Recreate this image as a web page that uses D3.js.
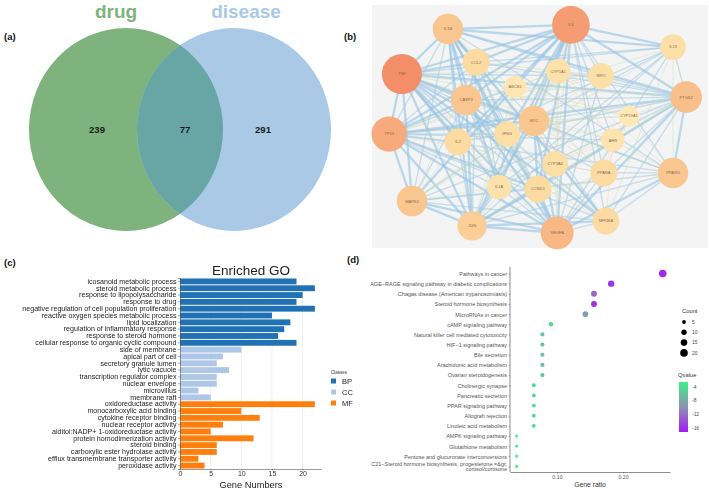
<!DOCTYPE html>
<html>
<head>
<meta charset="utf-8">
<script src="https://cdn.jsdelivr.net/npm/d3@7"></script>
<style>
  body { margin: 0; background: #fff; }
  text { font-family: "Liberation Sans", Arial, sans-serif; }
</style>
</head>
<body>
<div id="fig"></div>
<script>
// ---------- data ----------
// (a) venn
var vennSets = ["drug", "disease"];
var vennCounts = [239, 77, 291];   // drug only, shared, disease only

// (b) PPI network, layout units 0..1 inside the panel
var netNodes = ["IL1B","IL6","IL13","CCL2","CYP1A1","MPO","TNF","ABCB1","CASP3","PTGS2","MYC","CYP19A1",
                "TP53","IL2","IFNG","AHR","CYP3A4","PPARA","PPARG","IL1A","CCND1","MAPK3","JUN","VEGFA","NFKBIA"];
var netX = [0.226,0.592,0.896,0.310,0.554,0.682,0.089,0.426,0.280,0.935,0.482,0.765,
            0.051,0.256,0.402,0.717,0.545,0.690,0.896,0.378,0.494,0.119,0.298,0.551,0.696];
var netY = [0.099,0.082,0.173,0.235,0.272,0.292,0.284,0.337,0.391,0.379,0.477,0.457,
            0.531,0.564,0.531,0.556,0.654,0.691,0.691,0.749,0.757,0.807,0.909,0.938,0.889];
var netDegree = [16,22,12,13,11,12,24,9,16,17,16,8,
                 20,13,12,10,12,13,16,11,13,16,15,18,13];
var netEdges = [
 ["TNF","IL6",3],["TNF","IL1B",3],["TNF","TP53",3],["TNF","CASP3",3],["TNF","MYC",3],["TNF","IL2",3],["TNF","MAPK3",3],
 ["TNF","JUN",3],["TNF","VEGFA",3],["TNF","PTGS2",3],["TNF","IL13",2],["TNF","CCL2",3],["TNF","IFNG",3],["TNF","IL1A",3],
 ["TNF","CCND1",2],["TNF","PPARG",2],["TNF","NFKBIA",3],["TNF","MPO",2],["TNF","CYP1A1",1],["TNF","PPARA",2],["TNF","AHR",1],
 ["TNF","ABCB1",1],["TNF","CYP19A1",1],
 ["IL6","IL1B",3],["IL6","TP53",3],["IL6","CASP3",3],["IL6","MYC",3],["IL6","IL2",3],["IL6","MAPK3",3],["IL6","JUN",3],
 ["IL6","VEGFA",3],["IL6","PTGS2",3],["IL6","IL13",3],["IL6","CCL2",3],["IL6","IFNG",3],["IL6","IL1A",3],["IL6","CCND1",3],
 ["IL6","PPARG",2],["IL6","NFKBIA",2],["IL6","MPO",2],["IL6","CYP1A1",1],["IL6","PPARA",2],["IL6","AHR",2],["IL6","CYP3A4",1],
 ["TP53","IL1B",2],["TP53","CASP3",3],["TP53","MYC",3],["TP53","IL2",2],["TP53","MAPK3",3],["TP53","JUN",3],["TP53","VEGFA",3],
 ["TP53","PTGS2",3],["TP53","CCND1",3],["TP53","IL1A",2],["TP53","IFNG",2],["TP53","PPARG",2],["TP53","NFKBIA",2],["TP53","CYP1A1",1],
 ["TP53","AHR",2],["TP53","CCL2",2],["TP53","IL13",1],["TP53","MPO",1],["TP53","PPARA",1],["TP53","CYP19A1",1],["TP53","ABCB1",2],
 ["VEGFA","IL1B",3],["VEGFA","CASP3",3],["VEGFA","MYC",3],["VEGFA","IL2",1],["VEGFA","MAPK3",3],["VEGFA","JUN",3],["VEGFA","PTGS2",3],
 ["VEGFA","CCND1",3],["VEGFA","IL1A",2],["VEGFA","IFNG",2],["VEGFA","PPARG",3],["VEGFA","NFKBIA",2],["VEGFA","CCL2",2],["VEGFA","IL13",2],
 ["VEGFA","MPO",2],["VEGFA","PPARA",2],["VEGFA","AHR",1],["VEGFA","CYP3A4",1],["VEGFA","CYP1A1",1],
 ["IL1B","CASP3",3],["IL1B","MYC",2],["IL1B","IL2",2],["IL1B","MAPK3",2],["IL1B","JUN",3],["IL1B","PTGS2",3],["IL1B","CCND1",1],
 ["IL1B","IL1A",3],["IL1B","IFNG",3],["IL1B","PPARG",2],["IL1B","NFKBIA",3],["IL1B","CCL2",3],["IL1B","IL13",3],["IL1B","MPO",2],
 ["IL1B","PPARA",1],
 ["JUN","CASP3",3],["JUN","MYC",3],["JUN","IL2",2],["JUN","MAPK3",3],["JUN","PTGS2",3],["JUN","CCND1",3],["JUN","IL1A",2],
 ["JUN","IFNG",2],["JUN","PPARG",2],["JUN","NFKBIA",3],["JUN","CCL2",2],["JUN","IL13",2],["JUN","MPO",1],["JUN","AHR",1],
 ["JUN","PPARA",1],["JUN","CYP1A1",1],["JUN","ABCB1",1],
 ["MAPK3","CASP3",2],["MAPK3","MYC",2],["MAPK3","IL2",1],["MAPK3","PTGS2",2],["MAPK3","CCND1",2],["MAPK3","IL1A",1],["MAPK3","IFNG",1],
 ["MAPK3","PPARG",2],["MAPK3","NFKBIA",2],["MAPK3","CCL2",1],["MAPK3","IL13",1],["MAPK3","MPO",1],
 ["PTGS2","CASP3",2],["PTGS2","MYC",2],["PTGS2","IL2",1],["PTGS2","CCND1",2],["PTGS2","IL1A",2],["PTGS2","IFNG",2],["PTGS2","PPARG",3],
 ["PTGS2","NFKBIA",2],["PTGS2","CCL2",2],["PTGS2","IL13",2],["PTGS2","MPO",2],["PTGS2","CYP19A1",1],["PTGS2","AHR",1],["PTGS2","PPARA",2],
 ["PTGS2","CYP1A1",2],["PTGS2","CYP3A4",1],["PTGS2","ABCB1",1],
 ["MYC","CASP3",2],["MYC","CCND1",3],["MYC","IFNG",1],["MYC","PPARG",2],["MYC","NFKBIA",2],["MYC","AHR",1],["MYC","CYP1A1",1],
 ["MYC","ABCB1",1],["MYC","CYP19A1",1],["MYC","PPARA",1],["MYC","CYP3A4",1],["MYC","IL2",1],
 ["CASP3","IL2",2],["CASP3","IL1A",2],["CASP3","IFNG",2],["CASP3","CCL2",2],["CASP3","NFKBIA",2],["CASP3","CCND1",2],["CASP3","PPARG",1],
 ["CASP3","MPO",1],
 ["PPARG","PPARA",2],["PPARG","CCND1",1],["PPARG","CYP19A1",1],["PPARG","AHR",1],["PPARG","NFKBIA",2],["PPARG","IL13",1],["PPARG","CYP1A1",1],
 ["IL13","IL2",2],["IL13","IFNG",2],["IL13","CCL2",2],["IL13","IL1A",2],["IL13","NFKBIA",1],
 ["CCL2","IL2",2],["CCL2","IFNG",2],["CCL2","IL1A",2],["CCL2","NFKBIA",2],["CCL2","MPO",1],
 ["IFNG","IL2",2],["IFNG","IL1A",2],["IFNG","NFKBIA",1],["IL2","IL1A",1],["IL2","NFKBIA",1],
 ["CYP1A1","CYP19A1",0],["CYP1A1","AHR",0],["CYP1A1","CYP3A4",0],["CYP19A1","AHR",0],["CYP3A4","ABCB1",0],["CYP3A4","PPARA",0],
 ["CYP19A1","PPARA",0],["AHR","PPARA",0],["CYP1A1","MPO",0],["ABCB1","PPARA",0],["CYP3A4","AHR",0],["CYP3A4","CYP19A1",0],
 ["CYP1A1","ABCB1",0],["AHR","NFKBIA",0],["ABCB1","CYP19A1",0],["CYP3A4","CCND1",0],["MPO","CYP19A1",0],["ABCB1","IFNG",0]
];

// (c) GO enrichment
var goTerms = ["icosanoid metabolic process","steroid metabolic process","response to lipopolysaccharide","response to drug",
  "negative regulation of cell population proliferation","reactive oxygen species metabolic process","lipid localization",
  "regulation of inflammatory response","response to steroid hormone","cellular response to organic cyclic compound",
  "side of membrane","apical part of cell","secretory granule lumen","lytic vacuole","transcription regulator complex",
  "nuclear envelope","microvillus","membrane raft",
  "oxidoreductase activity","monocarboxylic acid binding","cytokine receptor binding","nuclear receptor activity",
  "alditol:NADP+ 1-oxidoreductase activity","protein homodimerization activity","steroid binding",
  "carboxylic ester hydrolase activity","efflux transmembrane transporter activity","peroxidase activity"];
var goCounts = [19,22,20,19,22,15,18,17,16,19, 10,7,6,8,6,6,3,5, 22,10,13,7,5,12,6,6,3,4];
var goClass = ["BP","BP","BP","BP","BP","BP","BP","BP","BP","BP",
               "CC","CC","CC","CC","CC","CC","CC","CC",
               "MF","MF","MF","MF","MF","MF","MF","MF","MF","MF"];
var goClasses = ["BP","CC","MF"];
var goTicks = [0,5,10,15,20];

// (d) KEGG enrichment
var keggTerms = ["Pathways in cancer","AGE\u2212RAGE signaling pathway in diabetic complications",
  "Chagas disease (American trypanosomiasis)","Steroid hormone biosynthesis","MicroRNAs in cancer",
  "cAMP signaling pathway","Natural killer cell mediated cytotoxicity","HIF\u22121 signaling pathway","Bile secretion",
  "Arachidonic acid metabolism","Ovarian steroidogenesis","Cholinergic synapse","Pancreatic secretion",
  "PPAR signaling pathway","Allograft rejection","Linoleic acid metabolism","AMPK signaling pathway",
  "Glutathione metabolism","Pentose and glucuronate interconversions",
  "C21\u2212Steroid hormone biosynthesis, progesterone =&gt;|cortisol/cortisone"];
var keggRatio = [0.260,0.182,0.156,0.156,0.143,0.091,0.078,0.078,0.078,0.078,0.078,
                 0.065,0.065,0.065,0.065,0.065,0.039,0.039,0.039,0.039];
var keggCount = [20,14,12,12,11,7,6,6,6,6,6,5,5,5,5,5,3,3,3,3];
var keggQ = [-16.5,-15.5,-12.5,-16,-8.5,-4.5,-6,-6,-6,-6,-6,-4,-4,-4,-4.5,-4.5,-2.5,-2.5,-2.5,-2.5];
var keggTicks = [0.1,0.2];
var countLegend = [5,10,15,20];
var qTicks = [-4,-8,-12,-16];

// ---------- svg ----------
var W = 709, H = 489;
var svg = d3.select("#fig").append("svg")
  .attr("width", W).attr("height", H);
svg.append("rect").attr("width", W).attr("height", H).attr("fill", "#fff");

function panelLabel(t, x, y) {
  svg.append("text").attr("x", x).attr("y", y).text(t)
    .attr("font-size", 9.5).attr("font-weight", "bold").attr("fill", "#111");
}
panelLabel("(a)", 4, 40);
panelLabel("(b)", 344, 40);
panelLabel("(c)", 4, 266);
panelLabel("(d)", 347, 263);

// ---------- (a) venn ----------
var va = svg.append("g");
var defs = svg.append("defs");
defs.append("clipPath").attr("id", "clipB")
  .append("ellipse").attr("cx", 234).attr("cy", 129.5).attr("rx", 97).attr("ry", 101.5);
va.append("ellipse").attr("cx", 126).attr("cy", 129.5).attr("rx", 97).attr("ry", 101.5).attr("fill", "#7fb37d");
va.append("ellipse").attr("cx", 234).attr("cy", 129.5).attr("rx", 97).attr("ry", 101.5).attr("fill", "#a9c9e7");
va.append("ellipse").attr("cx", 126).attr("cy", 129.5).attr("rx", 97).attr("ry", 101.5)
  .attr("clip-path", "url(#clipB)").attr("fill", "#68a6a6");
var vennTitleX = [116, 246], vennTitleCol = ["#7fb37d", "#a9c9e7"];
vennSets.forEach(function(s, i) {
  va.append("text").attr("x", vennTitleX[i]).attr("y", 18).text(s)
    .attr("text-anchor", "middle").attr("font-family", "'Liberation Serif', serif")
    .attr("font-weight", "bold").attr("font-size", 19).attr("fill", vennTitleCol[i]);
});
var vennNumX = [97, 185, 263];
vennCounts.forEach(function(c, i) {
  va.append("text").attr("x", vennNumX[i]).attr("y", 133).text(c)
    .attr("text-anchor", "middle").attr("font-weight", "bold").attr("font-size", 9.5)
    .attr("fill", "#1b1b1b");
});

// ---------- (b) network ----------
var nb = svg.append("g");
nb.append("rect").attr("x", 372).attr("y", 5).attr("width", 336).attr("height", 243).attr("fill", "#f4f4f4");
var nx = d3.scaleLinear().domain([0, 1]).range([372, 708]);
var ny = d3.scaleLinear().domain([0, 1]).range([5, 248]);
var nr = d3.scaleLinear().domain([8, 24]).range([10.5, 20]);
var ncol = d3.scaleLinear().domain([8, 13, 17, 24]).range(["#fde9b6", "#fcdba3", "#f9bf8a", "#f48e68"]);
var nodeIdx = {};
netNodes.forEach(function(n, i) { nodeIdx[n] = i; });
var edgeStyle = {
  0: {c: "#f3c79b", w: 0.6, o: 0.55},
  1: {c: "#cfdfbd", w: 0.9, o: 0.55},
  2: {c: "#a4cbe2", w: 1.4, o: 0.55},
  3: {c: "#93c2e3", w: 2.3, o: 0.6}
};
nb.selectAll("line.edge").data(netEdges).enter().append("line")
  .attr("class", "edge")
  .attr("x1", function(d) { return nx(netX[nodeIdx[d[0]]]); })
  .attr("y1", function(d) { return ny(netY[nodeIdx[d[0]]]); })
  .attr("x2", function(d) { return nx(netX[nodeIdx[d[1]]]); })
  .attr("y2", function(d) { return ny(netY[nodeIdx[d[1]]]); })
  .attr("stroke", function(d) { return edgeStyle[d[2]].c; })
  .attr("stroke-width", function(d) { return edgeStyle[d[2]].w; })
  .attr("stroke-opacity", function(d) { return edgeStyle[d[2]].o; });
var nodeG = nb.selectAll("g.node").data(netNodes).enter().append("g")
  .attr("transform", function(d, i) { return "translate(" + nx(netX[i]) + "," + ny(netY[i]) + ")"; });
nodeG.append("circle")
  .attr("r", function(d, i) { return nr(netDegree[i]); })
  .attr("fill", function(d, i) { return ncol(netDegree[i]); });
nodeG.append("text").text(function(d) { return d; })
  .attr("text-anchor", "middle").attr("dy", 1.4)
  .attr("font-size", 4).attr("fill", "#8a6a4a");

// ---------- (c) GO bar chart ----------
var gc = svg.append("g");
var gx = d3.scaleLinear().domain([0, 23]).range([180, 321]);
var gy = d3.scaleBand().domain(goTerms).range([278, 469]).paddingInner(0.14).paddingOuter(0.07);
var gcol = d3.scaleOrdinal().domain(goClasses).range(["#2171b5", "#aec7e8", "#ff7f0e"]);

goTicks.slice(1).forEach(function(t) {
  gc.append("line").attr("x1", gx(t)).attr("x2", gx(t)).attr("y1", 278).attr("y2", 469)
    .attr("stroke", "#e4e4e4").attr("stroke-width", 0.6);
});
gc.selectAll("rect.bar").data(goTerms).enter().append("rect")
  .attr("class", "bar")
  .attr("x", gx(0))
  .attr("y", function(d) { return gy(d); })
  .attr("width", function(d, i) { return gx(goCounts[i]) - gx(0); })
  .attr("height", gy.bandwidth())
  .attr("fill", function(d, i) { return gcol(goClass[i]); });

var gyAxis = gc.append("g").attr("transform", "translate(" + gx(0) + ",0)")
  .attr("opacity", 0.999)
  .call(d3.axisLeft(gy).tickSize(2).tickPadding(1.5));
gyAxis.selectAll("text").attr("font-size", 7.1).attr("fill", "#222").style("fill", "#222")
  .attr("font-family", "'Liberation Sans', Arial, sans-serif");
gyAxis.select(".domain").attr("stroke", "#555").attr("stroke-width", 0.6);
gyAxis.selectAll(".tick line").attr("stroke", "#555").attr("stroke-width", 0.5);

var gxAxis = gc.append("g").attr("transform", "translate(0,469)")
  .attr("opacity", 0.999)
  .call(d3.axisBottom(gx).tickValues(goTicks).tickSize(1.5).tickPadding(0.5).tickSizeOuter(0));
gxAxis.selectAll("text").attr("font-size", 7).attr("fill", "#333").style("fill", "#333")
  .attr("font-family", "'Liberation Sans', Arial, sans-serif");
gxAxis.select(".domain").attr("stroke", "#555").attr("stroke-width", 0.6);
gxAxis.selectAll(".tick line").attr("stroke", "#555").attr("stroke-width", 0.5);

gc.append("text").attr("x", 251).attr("y", 275).text("Enriched GO")
  .attr("text-anchor", "middle").attr("font-size", 13.5).attr("fill", "#222");
gc.append("text").attr("x", 251).attr("y", 488).text("Gene Numbers")
  .attr("text-anchor", "middle").attr("font-size", 9.3).attr("fill", "#222");

// legend
gc.append("text").attr("x", 331).attr("y", 374).text("Classes")
  .attr("font-size", 4.5).attr("fill", "#333");
goClasses.forEach(function(c, i) {
  var yy = 381 + i * 11;
  gc.append("rect").attr("x", 331).attr("y", yy - 2.5).attr("width", 5).attr("height", 5).attr("fill", gcol(c));
  gc.append("text").attr("x", 342).attr("y", yy + 2.8).text(c)
    .attr("font-size", 7.5).attr("fill", "#222");
});

// ---------- (d) KEGG bubble ----------
var kd = svg.append("g");
var kx = d3.scaleLinear().domain([0.029, 0.271]).range([510, 670]);
var ky = d3.scalePoint().domain(keggTerms).range([273.5, 466.5]);
var ks = d3.scaleSqrt().domain([0, 20]).range([0, 3.8]);
var kc = d3.scaleLinear().domain([-17, -10, -2.5]).range(["#a020f0", "#8f8fb0", "#3df08a"]);

var kyAxis = kd.append("g").attr("transform", "translate(510,0)")
  .call(d3.axisLeft(ky).tickSize(1.5).tickPadding(1.2).tickFormat(function() { return ""; }));
kyAxis.select(".domain").attr("stroke", "#444").attr("stroke-width", 0.6)
  .attr("d", "M0,267V472");
kyAxis.selectAll(".tick line").attr("stroke", "#444").attr("stroke-width", 0.4);
kyAxis.selectAll(".tick").each(function(d) {
  var parts = d.split("|");
  var t = d3.select(this).append("text").attr("x", -3).attr("text-anchor", "end")
    .attr("font-size", 5.5).attr("fill", "#555").attr("font-family", "'Liberation Sans', Arial, sans-serif");
  parts.forEach(function(p, j) {
    t.append("tspan").attr("x", -3).attr("dy", j === 0 ? (parts.length > 1 ? -0.8 : 1.9) : 5.2).text(p);
  });
});

var kxAxis = kd.append("g").attr("transform", "translate(0,472)")
  .call(d3.axisBottom(kx).tickValues(keggTicks).tickSize(1.5).tickPadding(1.5).tickSizeOuter(0));
kxAxis.select(".domain").attr("stroke", "#444").attr("stroke-width", 0.6);
kxAxis.selectAll(".tick line").attr("stroke", "#444").attr("stroke-width", 0.4);
kxAxis.selectAll("text").attr("font-size", 5.3).attr("fill", "#555")
  .attr("font-family", "'Liberation Sans', Arial, sans-serif");
kd.append("text").attr("x", 590).attr("y", 487).text("Gene ratio")
  .attr("text-anchor", "middle").attr("font-size", 6.8).attr("fill", "#333");

kd.selectAll("circle.pt").data(keggTerms).enter().append("circle")
  .attr("class", "pt")
  .attr("cx", function(d, i) { return kx(keggRatio[i]); })
  .attr("cy", function(d) { return ky(d); })
  .attr("r", function(d, i) { return ks(keggCount[i]); })
  .attr("fill", function(d, i) { return kc(keggQ[i]); });

// count legend
kd.append("text").attr("x", 682).attr("y", 313).text("Count").attr("font-size", 5.8).attr("fill", "#333");
countLegend.forEach(function(c, i) {
  var yy = 322 + i * 10.3;
  kd.append("circle").attr("cx", 684).attr("cy", yy).attr("r", ks(c)).attr("fill", "#000");
  kd.append("text").attr("x", 692).attr("y", yy + 1.8).text(c).attr("font-size", 4.9).attr("fill", "#444");
});
// qvalue legend
kd.append("text").attr("x", 678).attr("y", 377).text("Qvalue").attr("font-size", 5.8).attr("fill", "#333");
var qy = d3.scaleLinear().domain([-2.5, -17.2]).range([382, 432]);
var grad = defs.append("linearGradient").attr("id", "qgrad")
  .attr("x1", 0).attr("y1", 0).attr("x2", 0).attr("y2", 1);
d3.range(0, 1.01, 0.1).forEach(function(f) {
  grad.append("stop").attr("offset", f).attr("stop-color", kc(qy.invert(382 + f * 50)));
});
kd.append("rect").attr("x", 679).attr("y", 382).attr("width", 9).attr("height", 50).attr("fill", "url(#qgrad)");
qTicks.forEach(function(q) {
  kd.append("text").attr("x", 692).attr("y", qy(q) + 1.7).text(q).attr("font-size", 4.9).attr("fill", "#444");
});
</script>
</body>
</html>
